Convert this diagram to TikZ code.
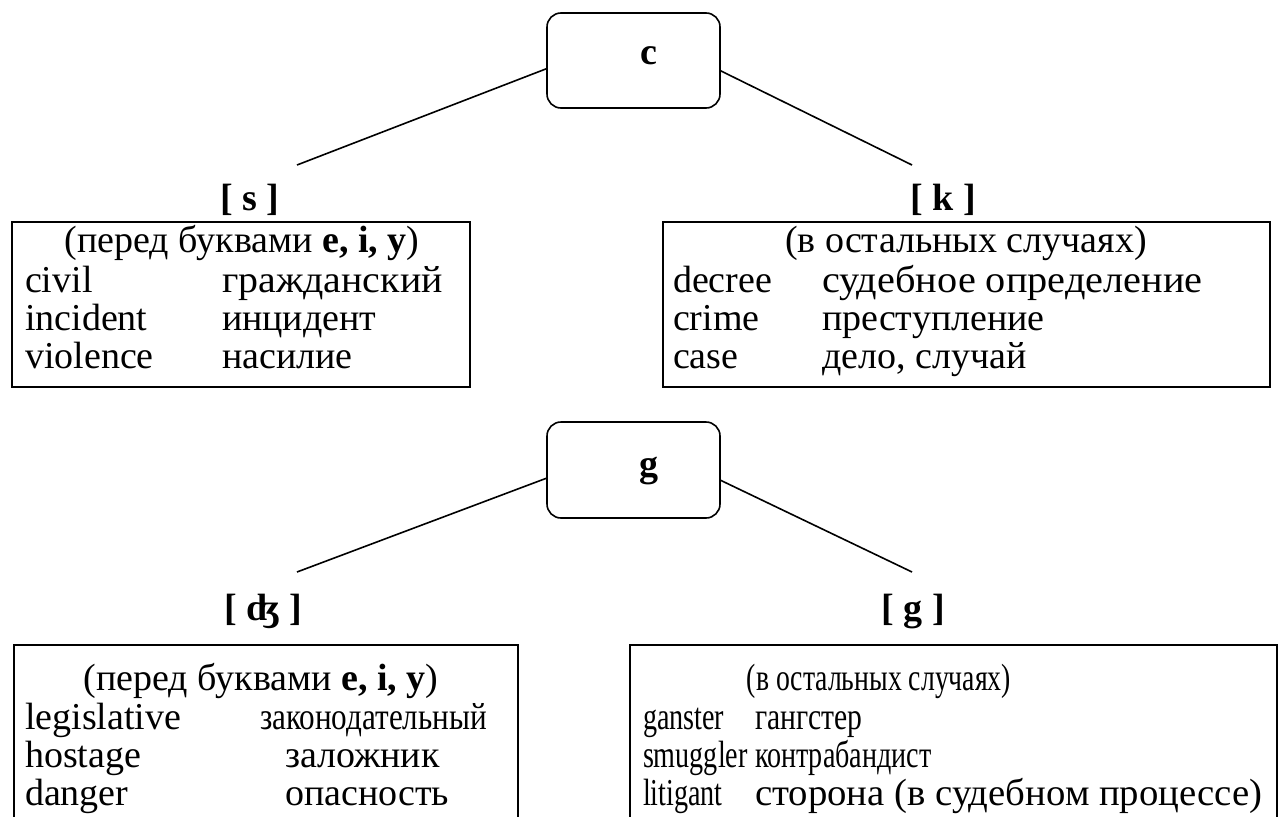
\documentclass[tikz,border=0pt]{standalone}
\usepackage{graphicx}
\usepackage{fontspec}
\setmainfont{Liberation Serif}
\begin{document}
\begin{tikzpicture}[x=1pt,y=-1pt,
  every node/.style={inner sep=0pt, outer sep=0pt, font=\fontsize{38}{44}\selectfont},
  rbox/.style={draw, line width=1.6pt, rounded corners=14pt, anchor=north west},
  tbox/.style={draw, line width=1.8pt, anchor=north west},
  lbl/.style={font=\fontsize{38}{44}\selectfont\bfseries, anchor=base},
  cell/.style={anchor=base west},
  head/.style={anchor=base},
  conn/.style={line width=1.6pt}]
\useasboundingbox (0,0) rectangle (1281,816);
\fill[white] (0,0) rectangle (1281,816);

% ---- c part ----
\node[rbox, minimum width=173pt, minimum height=95pt] (cbox) at (547,13) {};
\node[lbl] (cl) at (649,64) {c};
\coordinate (sEnd) at (297,165);
\coordinate (kEnd) at (912,165);
\draw[conn] ([yshift=-8pt]cbox.west) -- (sEnd);
\draw[conn] ([yshift=-10pt]cbox.east) -- (kEnd);
\node[lbl] (sl) at (250,210) {[ s ]};
\node[lbl] (kl) at (943,210) {[ k ]};

\node[tbox, minimum width=458pt, minimum height=165pt] (tl) at (12,222) {};
\node[head] (tlh) at (242,252) {(перед буквами \textbf{e, i, y})};
\node[cell] (tl1a) at (25,292) {civil};
\node[cell] (tl1b) at (222,292) {\scalebox{1.05}[1]{гражданский}};
\node[cell] (tl2a) at (25,330) {incident};
\node[cell] (tl2b) at (222,330) {инцидент};
\node[cell] (tl3a) at (25,368) {violence};
\node[cell] (tl3b) at (222,368) {насилие};

\node[tbox, minimum width=607pt, minimum height=165pt] (tr) at (663,222) {};
\node[head] (trh) at (966,252) {(в остальных случаях)};
\node[cell] (tr1a) at (673,292) {decree};
\node[cell] (tr1b) at (822,292) {\scalebox{1.06}[1]{судебное определение}};
\node[cell] (tr2a) at (673,330) {crime};
\node[cell] (tr2b) at (822,330) {преступление};
\node[cell] (tr3a) at (673,368) {case};
\node[cell] (tr3b) at (822,368) {дело, случай};

% ---- g part ----
\node[rbox, minimum width=173pt, minimum height=96pt] (gbox) at (547,422) {};
\node[lbl] (gl) at (649,476) {g};
\coordinate (dzEnd) at (297,572);
\coordinate (gEnd) at (912,572);
\draw[conn] ([yshift=-8pt]gbox.west) -- (dzEnd);
\draw[conn] ([yshift=-10pt]gbox.east) -- (gEnd);
\node[lbl] (dzl) at (263,620) {[ ʤ ]};
\node[lbl] (ggl) at (913,620) {[ g ]};

\node[tbox, minimum width=504pt, minimum height=200pt] (bl) at (14,645) {};
\node[head] (blh) at (261,690) {(перед буквами \textbf{e, i, y})};
\node[cell] (bl1a) at (25,729) {legislative};
\node[cell] (bl1b) at (260,729) {\scalebox{0.82}[1]{законодательный}};
\node[cell] (bl2a) at (25,767) {hostage};
\node[cell] (bl2b) at (285,767) {заложник};
\node[cell] (bl3a) at (25,805) {danger};
\node[cell] (bl3b) at (285,805) {опасность};

\node[tbox, minimum width=647pt, minimum height=200pt] (br) at (630,645) {};
\node[head] (brh) at (879,690) {\scalebox{0.73}[1]{(в остальных случаях)}};
\node[cell] (br1a) at (643,729) {\scalebox{0.74}[1]{ganster}};
\node[cell] (br1b) at (755,729) {\scalebox{0.78}[1]{гангстер}};
\node[cell] (br2a) at (643,767) {\scalebox{0.74}[1]{smuggler}};
\node[cell] (br2b) at (755,767) {\scalebox{0.74}[1]{контрабандист}};
\node[cell] (br3a) at (643,805) {\scalebox{0.74}[1]{litigant}};
\node[cell] (br3b) at (755,805) {\scalebox{1.02}[1]{сторона (в судебном процессе)}};
\end{tikzpicture}
\end{document}
